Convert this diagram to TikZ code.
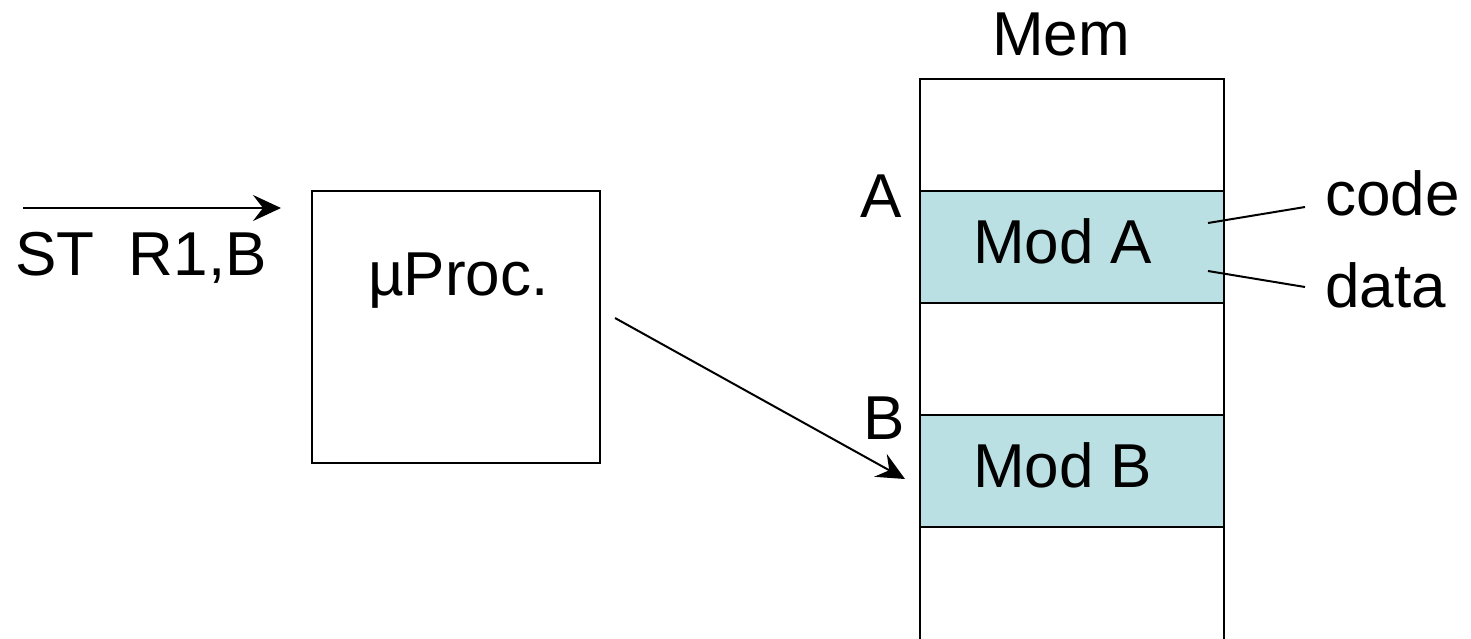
\documentclass[tikz,border=0pt]{standalone}
\usepackage{fontspec}
\setmainfont{Liberation Sans}
\usetikzlibrary{arrows.meta}
\definecolor{modfill}{HTML}{BBE0E3}
\begin{document}
\begin{tikzpicture}[x=1pt,y=-1pt,
  lbl/.style={font=\fontsize{62}{62}\selectfont, inner sep=0pt, anchor=base west},
  edge/.style={line width=2pt},
  arr/.style={line width=2pt, -{Stealth[length=28pt,width=26pt,inset=10pt]}},
  modbox/.style={draw, line width=2pt, fill=modfill, minimum width=304pt, minimum height=112pt, inner sep=0pt},
  procbox/.style={draw, line width=2pt, minimum width=288pt, minimum height=272pt, inner sep=0pt}]
\useasboundingbox (0,0) rectangle (1471,638);
% memory column
\draw[edge] (920,645) -- (920,79) -- (1224,79) -- (1224,645);
\node[modbox] (modA) at (1072,247) {};
\node[modbox] (modB) at (1072,471) {};
\node[lbl] (tmodA) at (973,263) {Mod A};
\node[lbl] (tmodB) at (973,487) {Mod B};
\node[lbl] (mem) at (992,55) {Mem};
\node[lbl] (la) at (860,217) {A};
\node[lbl] (lb) at (863,439) {B};
% processor
\node[procbox] (proc) at (456,327) {};
\node[lbl] (tproc) at (368,295) {µProc.};
% instruction
\node[lbl] (instr) at (15,275) {ST\ \ R1,B};
\coordinate (i1) at (23,208);
\coordinate (i2) at (281,208);
\draw[arr] (i1) -- (i2);
% access arrow
\coordinate (p1) at (615,318);
\coordinate (p2) at (905,479);
\draw[arr] (p1) -- (p2);
% code / data
\node[lbl] (code) at (1325,215) {code};
\node[lbl] (data) at (1325,307) {data};
\coordinate (c1) at (1208,223);
\coordinate (c2) at (1305,207);
\coordinate (d1) at (1208,271);
\coordinate (d2) at (1305,287);
\draw[edge] (c1) -- (c2);
\draw[edge] (d1) -- (d2);
\end{tikzpicture}
\end{document}
